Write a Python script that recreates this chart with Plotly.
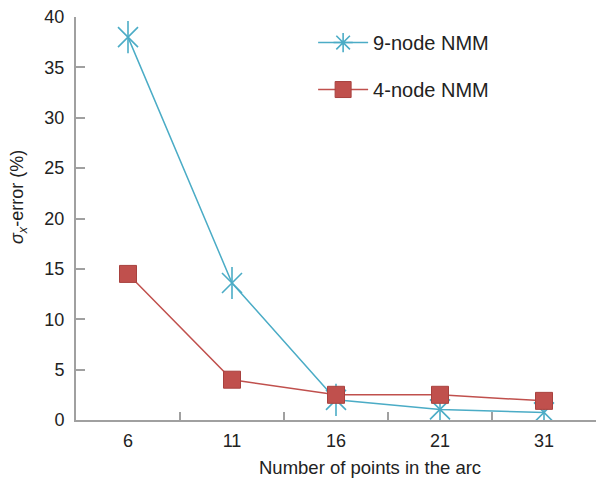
import plotly.graph_objects as go

categories = ["6", "11", "16", "21", "31"]
nmm9 = [38.0, 13.6, 2.0, 1.05, 0.75]
nmm4 = [14.5, 4.0, 2.5, 2.5, 1.9]
y_ticks = [0, 5, 10, 15, 20, 25, 30, 35, 40]

C9 = "#4bacc6"
C4 = "#c0504d"
FONT = "Liberation Sans, Arial, sans-serif"
TXT = "#222222"

fig = go.Figure()
# 9-node: line + X spokes
fig.add_trace(go.Scatter(
    x=categories, y=nmm9, mode="lines+markers", showlegend=False,
    line=dict(color=C9, width=1.5), legendgroup="g9",
    marker=dict(symbol="x-thin-open", size=20, color=C9, line=dict(color=C9, width=1.6)),
))
# vertical spoke
fig.add_trace(go.Scatter(
    x=categories, y=nmm9, mode="markers", showlegend=False, legendgroup="g9",
    marker=dict(symbol="line-ns-open", size=23, color=C9, line=dict(color=C9, width=1.6)),
))
# legend entry for 9-node
fig.add_trace(go.Scatter(
    x=[None], y=[None], mode="lines+markers", name="9-node NMM", legendgroup="g9",
    line=dict(color=C9, width=1.5),
    marker=dict(symbol="asterisk-open", size=20, color=C9, line=dict(color=C9, width=1.6)),
))
# 4-node
fig.add_trace(go.Scatter(
    x=categories, y=nmm4, mode="lines+markers", name="4-node NMM", legendgroup="g4",
    line=dict(color=C4, width=1.5),
    marker=dict(symbol="square", size=17, color=C4, line=dict(color="#a8413e", width=1)),
))

fig.update_layout(
    width=598, height=480,
    margin=dict(l=76, r=2, t=17, b=60),
    plot_bgcolor="white", paper_bgcolor="white",
    font=dict(family=FONT, size=16, color=TXT),
    showlegend=True,
    legend=dict(x=0.456, y=0.985, xanchor="left", yanchor="top",
                bgcolor="rgba(0,0,0,0)", font=dict(size=20, color=TXT),
                tracegroupgap=18, traceorder="grouped", itemwidth=50),
    annotations=[
        dict(text="Number of points in the arc",
             xref="paper", yref="paper", x=(370 - 76) / 520, y=(420 - 467) / 403,
             xanchor="center", yanchor="middle", showarrow=False,
             font=dict(family=FONT, size=18.5, color=TXT)),
        dict(text="<i>σ<sub>x</sub></i>-error (%)", textangle=-90,
             xref="paper", yref="paper", x=(18 - 76) / 520, y=(420 - 197) / 403,
             xanchor="center", yanchor="middle", showarrow=False,
             font=dict(family=FONT, size=18, color=TXT)),
    ],
)
fig.update_xaxes(
    type="category", range=[-0.5, 4.5],
    showline=True, linecolor="#a0a0a0", linewidth=2,
    ticks="inside", tickson="boundaries", ticklen=8, tickwidth=1.5, tickcolor="#a0a0a0",
    showgrid=False, zeroline=False,
    tickfont=dict(size=18), ticklabelstandoff=3,
)
fig.update_yaxes(
    range=[0, 40], tickvals=y_ticks,
    showline=True, linecolor="#a0a0a0", linewidth=2,
    ticks="inside", ticklen=9, tickwidth=1.5, tickcolor="#a0a0a0",
    showgrid=False, zeroline=False,
    tickfont=dict(size=18), ticklabelstandoff=6,
)

fig.write_html("out.html")
